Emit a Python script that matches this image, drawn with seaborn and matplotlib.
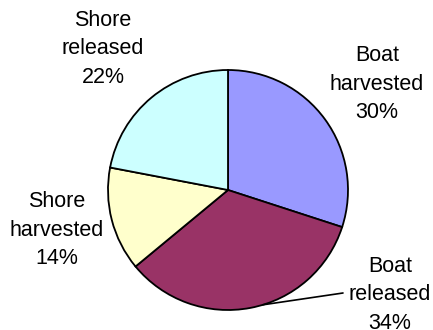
import numpy as np
import matplotlib
matplotlib.use("Agg")
import matplotlib.pyplot as plt
import seaborn as sns

categories = ["Boat\nharvested", "Boat\nreleased", "Shore\nharvested", "Shore\nreleased"]
shares = [30, 34, 14, 22]
colors = ["#9999FF", "#993366", "#FFFFCC", "#CCFFFF"]

sns.set_theme(style="white")
plt.rcParams["font.family"] = ["Liberation Sans", "DejaVu Sans"]

fig = plt.figure(figsize=(4.33, 3.30), dpi=100)
ax = fig.add_axes([0, 0, 1, 1])

cx, cy, r = 228, 140, 120
wedges, _ = ax.pie(shares, colors=colors, startangle=90, counterclock=False,
                   center=(cx, cy), radius=r, frame=True,
                   wedgeprops=dict(edgecolor="black", linewidth=1.3))
ax.set_xlim(0, 433)
ax.set_ylim(0, 330)
ax.set_aspect("equal")
ax.axis("off")

label_pos = [(377, 246), (390, 35), (57, 100), (103, 281)]
for (name, val, (lx, ly)) in zip(categories, shares, label_pos):
    ax.text(lx, ly, f"{name}\n{val}%", ha="center", va="center",
            fontsize=15.5, linespacing=1.45, color="black")

# leader line for the "Boat released" label
w = wedges[1]
ang = np.deg2rad(w.theta1 + 0.55 * (w.theta2 - w.theta1))
ex, ey = cx + r * np.cos(ang), cy + r * np.sin(ang)
ax.plot([ex, 343], [ey, 37], color="black", lw=1.2)

fig.savefig("out.png", dpi=100, facecolor="white")
